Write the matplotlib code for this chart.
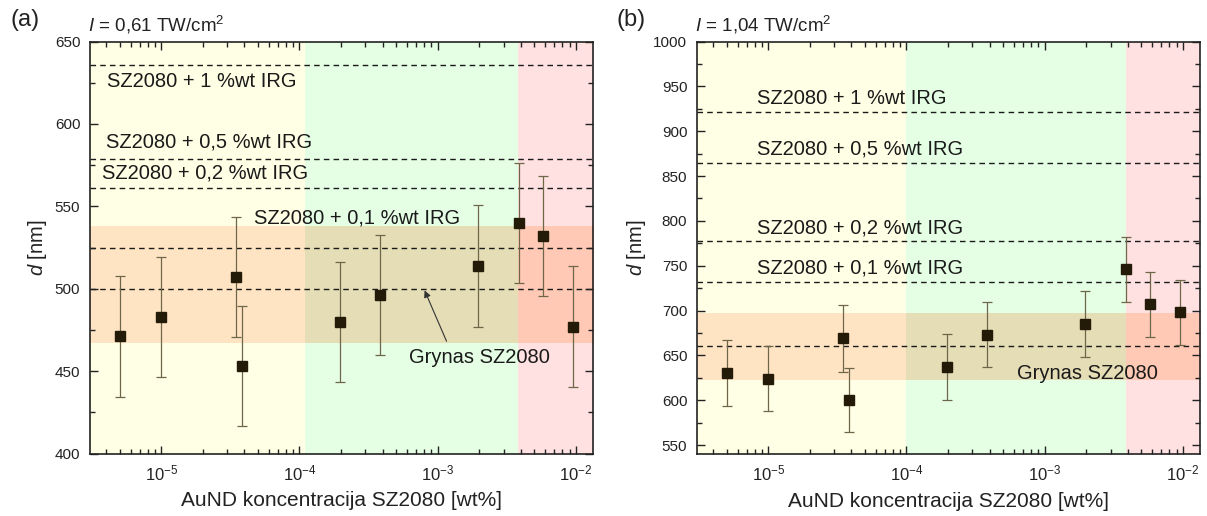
import numpy as np
import matplotlib
matplotlib.use("Agg")
import matplotlib.pyplot as plt
import matplotlib.transforms as mtransforms
from matplotlib.ticker import LogLocator, MultipleLocator, LogFormatterMathtext

plt.rcParams['font.family'] = ['Liberation Sans', 'DejaVu Sans']
plt.rcParams['mathtext.fontset'] = 'custom'
plt.rcParams['mathtext.rm'] = 'Liberation Sans'
plt.rcParams['mathtext.it'] = 'Liberation Sans:italic'

# ---- data ----
conc = [5e-6, 1e-5, 3.5e-5, 3.85e-5, 1.95e-4, 3.85e-4, 1.95e-3, 3.85e-3, 5.8e-3, 9.5e-3]

d_a = [471, 483, 507, 453, 480, 496, 514, 540, 532, 477]
err_a = [36.5, 36.5, 36.5, 36.5, 36.5, 36.5, 37, 36.5, 36.5, 36.5]
d_b = [630, 624, 669, 600, 637, 673, 685, 746, 707, 698]
err_b = [37, 36, 37, 36, 36.5, 36, 36.5, 36.5, 36.5, 36.5]

ref_labels = ["SZ2080 + 1 %wt IRG", "SZ2080 + 0,5 %wt IRG",
              "SZ2080 + 0,2 %wt IRG", "SZ2080 + 0,1 %wt IRG", "Grynas SZ2080"]
ref_a = [636, 579, 561, 525, 500]
ref_b = [921, 865, 778, 732, 660]

band_a = (467, 538)
band_b = (622.5, 697)

edges_a = [1e-7, 1.1e-4, 3.8e-3, 1.0]
edges_b = [1e-7, 1.0e-4, 3.9e-3, 1.0]
region_colors = ['#FFFFE5', '#E5FFE5', '#FFE1E1']
band_colors = ['#FFE4C4', '#E4DDB6', '#FFC9B5']

xlim = (3.05e-6, 1.33e-2)

panels = [
    dict(d=d_a, err=err_a, ref=ref_a, band=band_a, edges=edges_a, ylim=(400, 650),
         major=50, minor=25, tag="(a)", inten="0,61",
         lab_pos=[(0.034, 626), (0.032, 589), (0.024, 570.5), (0.327, 542.6), (0.635, 458.4)],
         arrow=((0.711, 466.6), (0.663, 500.5))),
    dict(d=d_b, err=err_b, ref=ref_b, band=band_b, edges=edges_b, ylim=(540, 1000),
         major=50, minor=25, tag="(b)", inten="1,04",
         lab_pos=[(0.119, 936), (0.119, 880), (0.119, 792.4), (0.119, 747.4), (0.636, 630)],
         arrow=None),
]

W, H = 1207, 516
fig = plt.figure(figsize=(W / 100, H / 100), dpi=100)
fig.patch.set_facecolor('white')

boxes = [(90, 593, 41.5, 453.5), (697, 1200, 41.5, 454)]

for p, (l, r, t, b) in zip(panels, boxes):
    ax = fig.add_axes([l / W, 1 - b / H, (r - l) / W, (b - t) / H])
    ax.set_xscale('log')
    ax.set_xlim(*xlim)
    ax.set_ylim(*p['ylim'])
    e = p['edges']
    for i in range(3):
        ax.axvspan(e[i], e[i + 1], color=region_colors[i], lw=0, zorder=0)
        ax.fill_between([e[i], e[i + 1]], p['band'][0], p['band'][1],
                        color=band_colors[i], lw=0, zorder=0.5)
    for y in p['ref']:
        ax.axhline(y, color='#1a1a1a', lw=1.0, ls=(0, (4, 3)), zorder=1)
    ax.errorbar(conc, p['d'], yerr=p['err'], fmt='s', ms=7.5, mfc='#231a08', mec='#231a08',
                ecolor='#6e6648', elinewidth=0.9, capsize=3.5, capthick=0.9, zorder=3)
    trans = mtransforms.blended_transform_factory(ax.transAxes, ax.transData)
    for lab, (xf, yv) in zip(ref_labels, p['lab_pos']):
        ax.text(xf, yv, lab, transform=trans, fontsize=14.5, va='center', ha='left',
                color='#1a1a1a', zorder=4)
    if p['arrow'] is not None:
        (x0, y0), (x1, y1) = p['arrow']
        ax.annotate('', xy=(x1, y1), xycoords=trans, xytext=(x0, y0), textcoords=trans,
                    arrowprops=dict(arrowstyle='-|>', color='#333333', lw=0.8,
                                    mutation_scale=10), zorder=4)
    ax.xaxis.set_major_locator(LogLocator(base=10, numticks=10))
    ax.xaxis.set_minor_locator(LogLocator(base=10, subs=np.arange(2, 10), numticks=10))
    ax.xaxis.set_major_formatter(LogFormatterMathtext())
    ax.yaxis.set_major_locator(MultipleLocator(p['major']))
    ax.yaxis.set_minor_locator(MultipleLocator(p['minor']))
    ax.tick_params(which='both', direction='in', top=True, right=True,
                   width=1.0, colors='#222222')
    ax.tick_params(axis='y', labelsize=11)
    ax.tick_params(axis='x', labelsize=12)
    ax.tick_params(which='major', length=6, pad=7)
    ax.tick_params(which='minor', length=3.5)
    for s in ax.spines.values():
        s.set_linewidth(1.2)
        s.set_color('#222222')
    ax.set_xlabel("AuND koncentracija SZ2080 [wt%]", fontsize=15, labelpad=6, color='#222222')
    ax.set_ylabel(r"$\mathit{d}$ [nm]", fontsize=14.5, labelpad=4, color='#222222')
    fig.text((l - 80) / W, 1 - 20 / H, p['tag'], fontsize=17, va='center', ha='left', color='#222222')
    fig.text((l - 2) / W, 1 - 25 / H, r"$\mathit{I}$ = " + p['inten'] + r" TW/cm$^{2}$",
             fontsize=13.5, va='center', ha='left', color='#222222')

fig.savefig("out.png", dpi=100)
